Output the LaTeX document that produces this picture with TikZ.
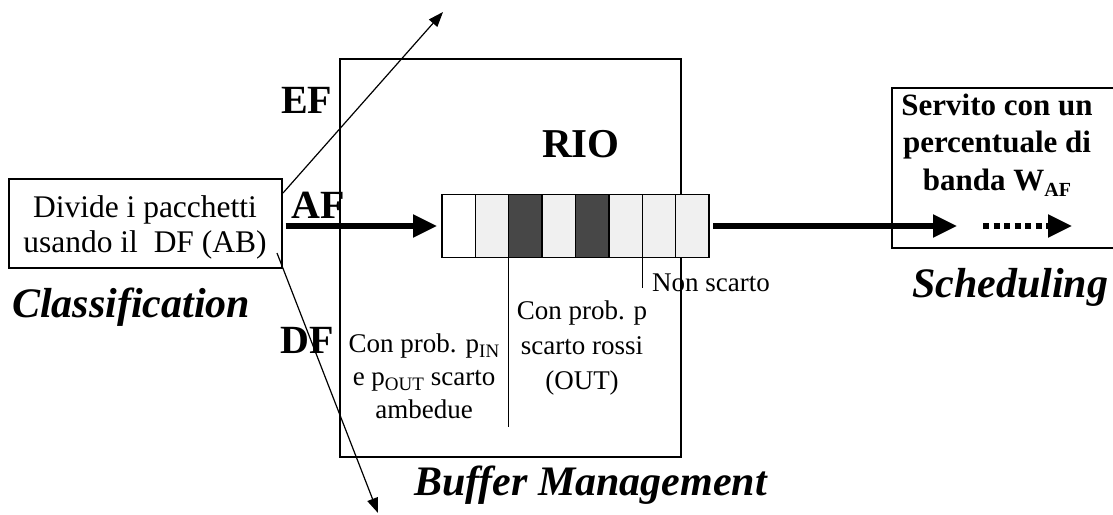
\documentclass[tikz,border=0pt]{standalone}
\usepackage{fontspec}
\setmainfont{Liberation Serif}
\usetikzlibrary{arrows.meta}
\definecolor{lightcell}{HTML}{F0F0F0}
\definecolor{darkcell}{HTML}{474747}
\newcommand{\sbx}[2]{\raisebox{-0.22em}{\fontsize{#1}{#1}\selectfont #2}}
\begin{document}
\begin{tikzpicture}[x=1pt,y=-1pt,
  cellbox/.style={draw,line width=1.4pt,minimum width=33.375pt,minimum height=63pt,inner sep=0pt,outer sep=0pt,anchor=west},
  thickarrow/.style={line width=5.5pt,-{Triangle[length=24pt,width=22pt]}},
  thinarrow/.style={line width=1.2pt,-{Triangle[length=15pt,width=11pt]}},
  thinline/.style={line width=1.2pt},
  bigflow/.style={font=\bfseries\fontsize{40}{40}\selectfont,inner sep=0pt,anchor=base west},
  stage/.style={font=\bfseries\itshape\fontsize{42}{42}\selectfont,inner sep=0pt,anchor=base west},
  note/.style={font=\fontsize{27}{35}\selectfont,inner sep=0pt,align=center,anchor=base}
]
\useasboundingbox (0,0) rectangle (1113,514);
% boxes
\node[draw,line width=1.2pt,minimum width=273pt,minimum height=89pt,inner sep=0pt] (leftbox) at (145.5,223.5) {};
\node[font=\fontsize{31.5}{35}\selectfont,inner sep=0pt,align=center,anchor=base] (lefttext) at (145,252) {Divide i pacchetti\\usando il\ \ DF (AB)};
\node[draw,line width=2.2pt,minimum width=341pt,minimum height=398pt,inner sep=0pt] (bigbox) at (510.5,258) {};
\node[inner sep=0pt,outer sep=0pt,minimum width=240pt,minimum height=160pt] (rightbox) at (1012,168) {};
\draw[line width=2.2pt] (rightbox.north east) -- (rightbox.north west) -- (rightbox.south west) -- (rightbox.south east);
\node[font=\bfseries\fontsize{31}{37.5}\selectfont,inner sep=0pt,align=center,anchor=base] (righttext) at (997,190) {Servito con un\\percentuale di\\banda W\sbx{20}{AF}};
% queue
\node[cellbox,fill=white] (c1) at (442,226) {};
\node[cellbox,fill=lightcell] (c2) at (c1.east) {};
\node[cellbox,fill=darkcell] (c3) at (c2.east) {};
\node[cellbox,fill=lightcell] (c4) at (c3.east) {};
\node[cellbox,fill=darkcell] (c5) at (c4.east) {};
\node[cellbox,fill=lightcell] (c6) at (c5.east) {};
\node[cellbox,fill=lightcell] (c7) at (c6.east) {};
\node[cellbox,fill=lightcell] (c8) at (c7.east) {};
% labels
\node[bigflow] (ef) at (281,113) {EF};
\node[bigflow] (af) at (291,218) {AF};
\node[bigflow] (df) at (280,353) {DF};
\node[font=\bfseries\fontsize{41}{41}\selectfont,inner sep=0pt,anchor=base] (rio) at (581,157) {RIO};
\node[stage] (classif) at (12,317) {Classification};
\node[stage] (sched) at (912,297) {Scheduling};
\node[stage] (buffer) at (414,495) {Buffer Management};
\node[font=\fontsize{27}{27}\selectfont,inner sep=0pt,anchor=base west] (nonscarto) at (652,291) {Non scarto};
\node[note] (rossi) at (582,389) {Con prob. p\\scarto rossi\\(OUT)};
\node[note,font=\fontsize{27}{33}\selectfont] (ambedue) at (424,418) {Con prob. p\sbx{19}{IN}\\e p\sbx{19}{OUT} scarto\\ambedue};
% connectors
\coordinate (efs) at (283,193);
\coordinate (eft) at (443,12);
\coordinate (dfs) at (277,253);
\coordinate (dft) at (378,513);
\coordinate (outtip) at (957,226);
\coordinate (dots) at (983,226);
\coordinate (dote) at (1072,226);
\coordinate (redend) at (509,427);
\coordinate (okend) at (642,288);
\draw[thinarrow] (efs) -- (eft);
\draw[thinarrow] (dfs) -- (dft);
\draw[thickarrow,shorten <=3pt,shorten >=5pt] (leftbox.east |- c1.west) -- (c1.west);
\draw[thickarrow,shorten <=4pt] (c8.east) -- (outtip);
\draw[thickarrow,dash pattern=on 6pt off 4.5pt] (dots) -- (dote);
\draw[thinline] (c3.south west) -- (c3.south west |- redend);
\draw[thinline] (c7.south west) -- (c7.south west |- okend);
\end{tikzpicture}
\end{document}
